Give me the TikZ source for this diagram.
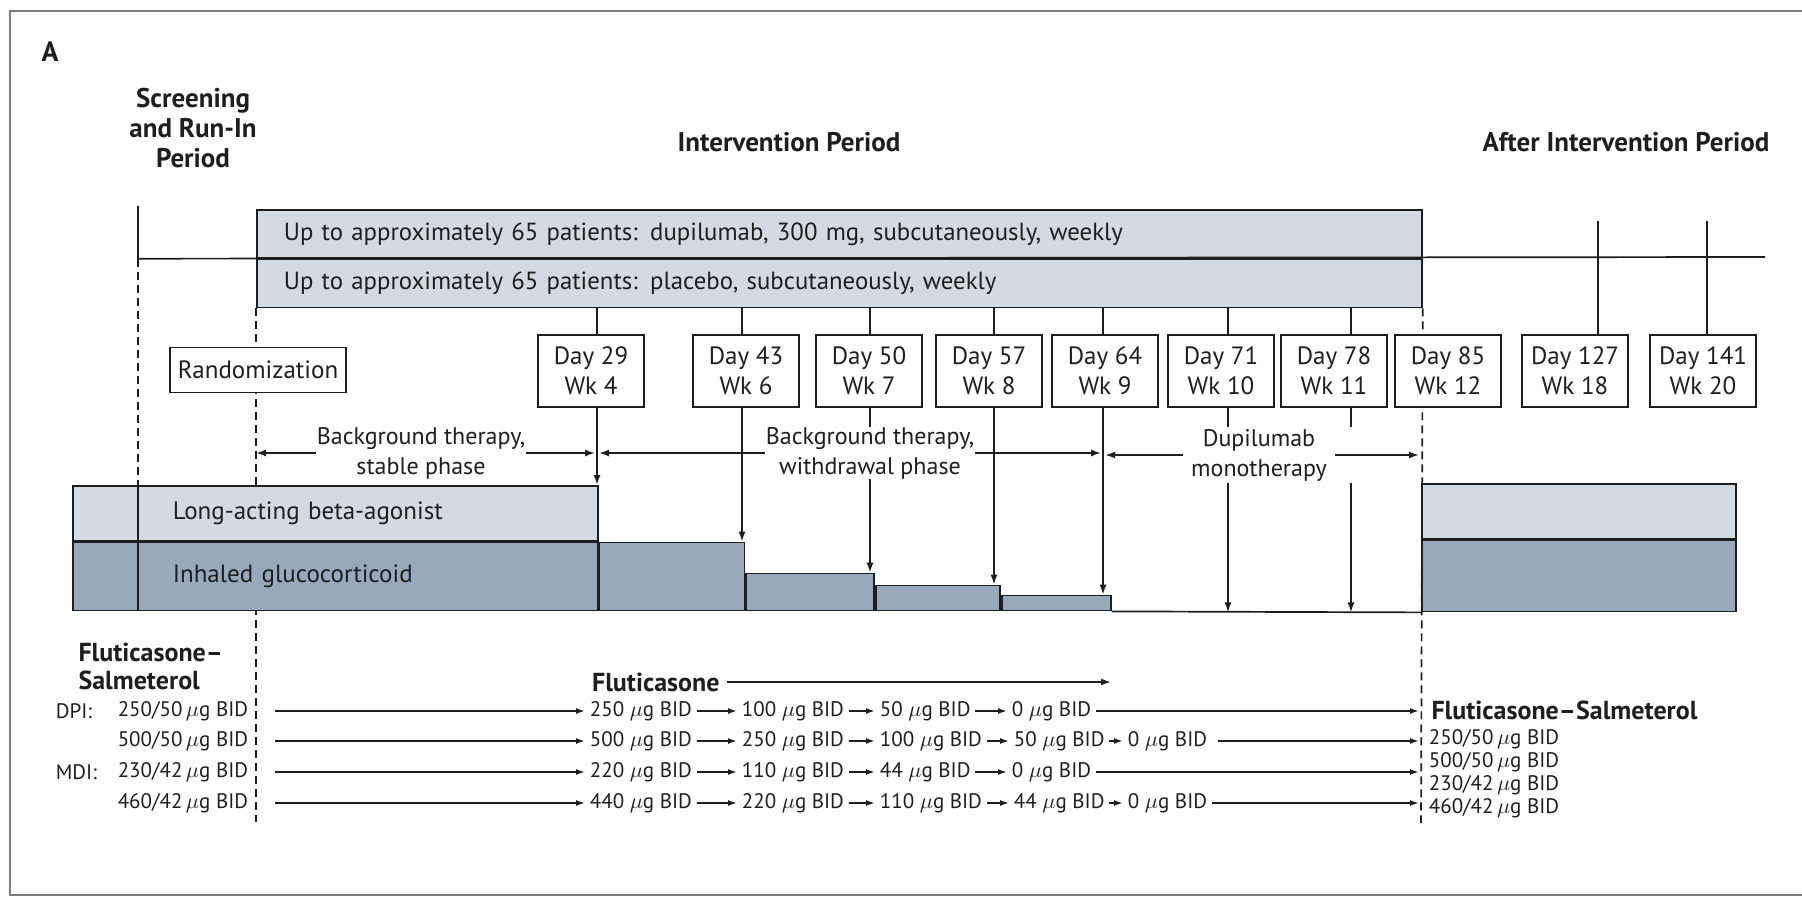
\documentclass[tikz,border=0pt]{standalone}
\usepackage{fontspec}
\setmainfont{PT Sans}
\usepackage{tikz}
\usetikzlibrary{positioning}
\usetikzlibrary{arrows.meta}

\definecolor{barlight}{RGB}{211,218,226}
\definecolor{bardark}{RGB}{151,169,186}
\definecolor{framegray}{RGB}{125,125,125}
\definecolor{ink}{RGB}{30,30,30}
\newcommand{\mcg}{$\mu$g}

\tikzset{
  headtext/.style={font=\fontsize{13.5}{15}\selectfont\bfseries, align=center},
  armbox/.style={draw, fill=barlight, minimum height=24pt, text width=555.5pt, inner xsep=13.5pt, inner ysep=0pt, align=left, font=\fontsize{12.4}{15}\selectfont},
  daybox/.style={draw, fill=white, minimum width=53pt, minimum height=36pt, inner sep=0pt, align=center, font=\fontsize{12.5}{15}\selectfont},
  randbox/.style={draw, fill=white, minimum width=88pt, minimum height=22.5pt, inner sep=1pt, font=\fontsize{12.5}{15}\selectfont},
  phase/.style={fill=white, inner xsep=0pt, inner ysep=0pt, align=center, font=\fontsize{12}{15}\selectfont},
  lababox/.style={draw, fill=barlight, inner sep=0pt},
  icsbox/.style={draw, fill=bardark, inner sep=0pt},
  dose/.style={inner xsep=2pt, inner ysep=1pt, font=\fontsize{10.5}{12}\selectfont},
  drugname/.style={font=\fontsize{13}{14}\selectfont\bfseries},
  arr/.style={-{Latex[length=5pt,width=3.5pt]}},
  smallarr/.style={-{Latex[length=4.5pt,width=3pt]}},
  dashline/.style={dash pattern=on 4pt off 2.5pt}
}

\begin{document}
\begin{tikzpicture}[x=0.5pt, y=-0.5pt, line width=0.85pt, color=ink]
	\useasboundingbox (0,0) rectangle (1802,897);
	\draw[framegray, line width=1.3pt] (1802,11) -- (10,11) -- (10,895) -- (1802,895);

	% period headings
	\node[font=\fontsize{14}{16}\selectfont\bfseries] (panel) at (50,52) {A};
	\node[headtext] (screen) at (193,128) {Screening\\and Run-In\\Period};
	\node[headtext] (interv) at (789,142) {Intervention Period};
	\node[headtext] (after) at (1626,142) {After Intervention Period};

	% time points
	\coordinate (t29) at (597,0);
	\coordinate (t43) at (742,0);
	\coordinate (t50) at (870,0);
	\coordinate (t57) at (994,0);
	\coordinate (t64) at (1103,0);
	\coordinate (t71) at (1228,0);
	\coordinate (t78) at (1351,0);
	\coordinate (t85) at (1421,0);
	\coordinate (t127) at (1598,221);
	\coordinate (t141) at (1707,221);
	\coordinate (runin) at (138,206);
	\coordinate (lineend) at (1765,257);
	\coordinate (randend) at (256,822);
	\coordinate (endend) at (1421,823);

	% treatment arms
	\node[armbox, anchor=north west] (arm1) at (256,209) {Up to approximately 65 patients: dupilumab, 300 mg, subcutaneously, weekly};
	\node[armbox, below=0mm of arm1] (arm2) {Up to approximately 65 patients: placebo, subcutaneously, weekly};
	\draw (runin) -- (runin |- arm1.south) -- (lineend);

	\draw[dashline] (arm2.south west) -- (randend);
	\draw[dashline] (arm2.south east) -- (endend);

	% visits
	\node[daybox] (d29) at (591,371) {Day 29\\Wk 4};
	\node[daybox] (d43) at (746,371) {Day 43\\Wk 6};
	\node[daybox] (d50) at (869,371) {Day 50\\Wk 7};
	\node[daybox] (d57) at (989,371) {Day 57\\Wk 8};
	\node[daybox] (d64) at (1105,371) {Day 64\\Wk 9};
	\node[daybox] (d71) at (1221,371) {Day 71\\Wk 10};
	\node[daybox] (d78) at (1334,371) {Day 78\\Wk 11};
	\node[daybox] (d85) at (1448,371) {Day 85\\Wk 12};
	\node[daybox] (d127) at (1575,371) {Day 127\\Wk 18};
	\node[daybox] (d141) at (1703,371) {Day 141\\Wk 20};
	\node[randbox] (rand) at (258,370) {Randomization};

	% background therapy bars
	\node[lababox, anchor=north west, minimum width=262.5pt, minimum height=27.5pt, inner xsep=50pt, text width=162.5pt, align=left, font=\fontsize{12.5}{15}\selectfont] (laba) at (72,485) {Long-acting beta-agonist};
	\node[icsbox, below=0mm of laba, minimum width=262.5pt, minimum height=34pt, inner xsep=50pt, text width=162.5pt, align=left, font=\fontsize{12.5}{15}\selectfont] (icsA) {Inhaled glucocorticoid};
	\node[icsbox, anchor=north west, minimum width=72.5pt, minimum height=34pt] (icsB) at (laba.south east) {};
	\node[icsbox, anchor=south west, minimum width=64pt, minimum height=18.5pt] (step1) at (icsB.south east) {};
	\node[icsbox, anchor=south west, minimum width=62pt, minimum height=12.5pt] (step2) at (step1.south east) {};
	\node[icsbox, anchor=south west, minimum width=54.5pt, minimum height=7.5pt] (step3) at (step2.south east) {};
	\node[lababox, anchor=north west, minimum width=157pt, minimum height=27.5pt] (postlaba) at (1421,483) {};
	\node[icsbox, below=0mm of postlaba, minimum width=157pt, minimum height=35.5pt] (postics) {};
	\draw (step3.south east) -- (postics.south west);
	\draw[dashline] (runin |- arm1.south) -- (runin |- laba.north);
	\draw (runin |- laba.north) -- (runin |- icsA.south);

	% visit connectors
	\draw (arm2.south -| t29) -- (d29.north -| t29);
	\draw (arm2.south -| t43) -- (d43.north -| t43);
	\draw (arm2.south -| t50) -- (d50.north -| t50);
	\draw (arm2.south -| t57) -- (d57.north -| t57);
	\draw (arm2.south -| t64) -- (d64.north -| t64);
	\draw (arm2.south -| t71) -- (d71.north -| t71);
	\draw (arm2.south -| t78) -- (d78.north -| t78);
	\draw (t127) -- (d127.north -| t127);
	\draw (t141) -- (d141.north -| t141);

	\draw[arr] (d29.south -| t29) -- (laba.north -| t29);
	\draw[arr] (d43.south -| t43) -- (icsB.north -| t43);
	\draw[arr] (d50.south -| t50) -- (step1.north -| t50);
	\draw[arr] (d57.south -| t57) -- (step2.north -| t57);
	\draw[arr] (d64.south -| t64) -- (step3.north -| t64);

	% phases
	\node[phase] (stable) at (421,453) {Background therapy,\\stable phase};
	\node[phase] (withdraw) at (870,453) {Background therapy,\\withdrawal phase};
	\node[phase, inner xsep=3.5pt, minimum height=27pt] (mono) at (1259,455) {Dupilumab\\monotherapy};
	\draw[arr] (stable.west) -- (stable.west -| randend);
	\draw[arr, shorten >=1pt] (stable.east) -- (stable.east -| t29);
	\draw[arr, shorten >=1pt] (withdraw.west) -- (withdraw.west -| t29);
	\draw[arr, shorten >=1pt] (withdraw.east) -- (withdraw.east -| t64);
	\draw[arr, shorten >=1pt] (mono.west) -- (mono.west -| t64);
	\draw[arr, shorten >=1pt] (mono.east) -- (mono.east -| t85);
	\draw (d71.south -| t71) -- (mono.north -| t71);
	\draw (d78.south -| t78) -- (mono.north -| t78);
	\draw[arr] (mono.south -| t71) -- (postics.south -| t71);
	\draw[arr] (mono.south -| t78) -- (postics.south -| t78);

	% inhaler doses
	\node[drugname, anchor=west, align=left] (fsleft) at (71,666) {Fluticasone--\\Salmeterol};
	\node[drugname, anchor=east] (flut) at (727,682) {Fluticasone};
	\coordinate (flutend) at (1111,682);
	\draw[arr] (flut.east) -- (flutend);

	\node[dose, anchor=west] (dpi) at (51,711) {DPI:};
	\node[dose, anchor=east] (lf1) at (253,711) {250/50\,\mcg\ BID};
	\node[dose, anchor=east] (lf2) at (253,741) {500/50\,\mcg\ BID};
	\node[dose, anchor=west] (mdi) at (51,772) {MDI:};
	\node[dose, anchor=east] (lf3) at (253,772) {230/42\,\mcg\ BID};
	\node[dose, anchor=east] (lf4) at (253,803) {460/42\,\mcg\ BID};

	\node[dose, anchor=west] (r1a) at (585,711) {250 \mcg\ BID};
	\node[dose, anchor=west] (r1b) at (737,711) {100 \mcg\ BID};
	\node[dose, anchor=west] (r1c) at (875,711) {50 \mcg\ BID};
	\node[dose, anchor=west] (r1d) at (1007,711) {0 \mcg\ BID};

	\node[dose, anchor=west] (r2a) at (585,741) {500 \mcg\ BID};
	\node[dose, anchor=west] (r2b) at (737,741) {250 \mcg\ BID};
	\node[dose, anchor=west] (r2c) at (875,741) {100 \mcg\ BID};
	\node[dose, anchor=west] (r2d) at (1009,741) {50 \mcg\ BID};
	\node[dose, anchor=west] (r2e) at (1123,741) {0 \mcg\ BID};

	\node[dose, anchor=west] (r3a) at (585,772) {220 \mcg\ BID};
	\node[dose, anchor=west] (r3b) at (737,772) {110 \mcg\ BID};
	\node[dose, anchor=west] (r3c) at (875,772) {44 \mcg\ BID};
	\node[dose, anchor=west] (r3d) at (1007,772) {0 \mcg\ BID};

	\node[dose, anchor=west] (r4a) at (585,803) {440 \mcg\ BID};
	\node[dose, anchor=west] (r4b) at (737,803) {220 \mcg\ BID};
	\node[dose, anchor=west] (r4c) at (875,803) {110 \mcg\ BID};
	\node[dose, anchor=west] (r4d) at (1009,803) {44 \mcg\ BID};
	\node[dose, anchor=west] (r4e) at (1123,803) {0 \mcg\ BID};

	\draw[smallarr, shorten <=11pt] (lf1.east) -- (r1a.west);
	\draw[smallarr, shorten <=11pt] (lf2.east) -- (r2a.west);
	\draw[smallarr, shorten <=11pt] (lf3.east) -- (r3a.west);
	\draw[smallarr, shorten <=11pt] (lf4.east) -- (r4a.west);

	\draw[smallarr] (r1a.east) -- (r1b.west);
	\draw[smallarr] (r1b.east) -- (r1c.west);
	\draw[smallarr] (r1c.east) -- (r1d.west);
	\draw[smallarr, shorten >=1pt] (r1d.east) -- (r1d.east -| t85);

	\draw[smallarr] (r2a.east) -- (r2b.west);
	\draw[smallarr] (r2b.east) -- (r2c.west);
	\draw[smallarr] (r2c.east) -- (r2d.west);
	\draw[smallarr] (r2d.east) -- (r2e.west);
	\draw[smallarr, shorten <=3pt, shorten >=1pt] (r2e.east) -- (r2e.east -| t85);

	\draw[smallarr] (r3a.east) -- (r3b.west);
	\draw[smallarr] (r3b.east) -- (r3c.west);
	\draw[smallarr] (r3c.east) -- (r3d.west);
	\draw[smallarr, shorten >=1pt] (r3d.east) -- (r3d.east -| t85);

	\draw[smallarr] (r4a.east) -- (r4b.west);
	\draw[smallarr] (r4b.east) -- (r4c.west);
	\draw[smallarr] (r4c.east) -- (r4d.west);
	\draw[smallarr] (r4d.east) -- (r4e.west);
	\draw[smallarr, shorten >=1pt] (r4e.east) -- (r4e.east -| t85);

	\node[drugname, anchor=west] (fsright) at (1424,710) {Fluticasone--Salmeterol};
	\node[dose, anchor=north west, align=left, font=\fontsize{10.5}{11.4}\selectfont] (fsdose) at (fsright.south west) {250/50\,\mcg\ BID\\500/50\,\mcg\ BID\\230/42\,\mcg\ BID\\460/42\,\mcg\ BID};
\end{tikzpicture}
\end{document}
